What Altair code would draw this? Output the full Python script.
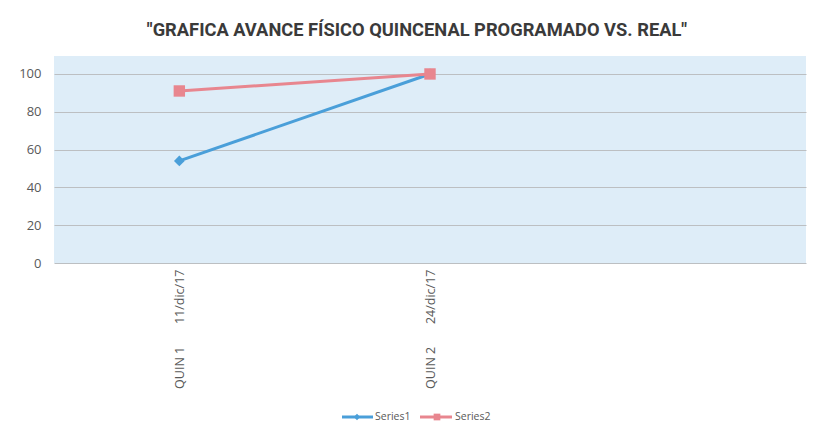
import altair as alt
import pandas as pd

# ---- data ----
categories = ["QUIN 1", "QUIN 2"]
dates = ["11/dic/17", "24/dic/17"]
series_names = ["Series1", "Series2"]
series1 = [54, 100]
series2 = [91, 100]
y_ticks = [0, 20, 40, 60, 80, 100]

NBSP = "\u00a0"
gap = NBSP * 7
labels = [f"{c}{gap}{d}" for c, d in zip(categories, dates)]
x_domain = labels + [NBSP]  # third, empty slot on the category axis

rows = []
for name, vals in zip(series_names, [series1, series2]):
    for lab, v in zip(labels, vals):
        rows.append({"cat": lab, "series": name, "value": v})
df = pd.DataFrame(rows)

colors = ["#4a9fd9", "#e8868f"]
W, H = 752, 207

x_enc = alt.X(
    "cat:N",
    sort=None,
    scale=alt.Scale(type="point", domain=x_domain, padding=0.5),
    axis=alt.Axis(
        title=None, labelAngle=270, labelAlign="right", labelBaseline="middle",
        labelPadding=6, ticks=False, domain=False, grid=False,
        labelFont="Open Sans", labelFontSize=12.5, labelColor="#595959",
    ),
)
y_enc = alt.Y(
    "value:Q",
    scale=alt.Scale(domain=[0, 109.5], nice=False, zero=True),
    axis=alt.Axis(
        title=None, values=y_ticks, ticks=False, domain=False, grid=True,
        gridColor="#bcbfc2", gridWidth=1, labelPadding=13,
        labelFont="Open Sans", labelFontSize=13, labelColor="#595959",
    ),
)
color_enc = alt.Color(
    "series:N", scale=alt.Scale(domain=series_names, range=colors), legend=None
)

base = alt.Chart(df)
lines = base.mark_line(strokeWidth=3).encode(x=x_enc, y=y_enc, color=color_enc)
pts1 = base.transform_filter(alt.datum.series == "Series1").mark_point(
    shape="diamond", size=115, filled=True, opacity=1, color=colors[0]
).encode(x=x_enc, y=y_enc)
pts2 = base.transform_filter(alt.datum.series == "Series2").mark_point(
    shape="square", size=130, filled=True, opacity=1, color=colors[1]
).encode(x=x_enc, y=y_enc)

# ---- custom legend (line + marker + text), below the axis labels ----
def legend_item(name, color, shape, x0, x1, xm, xt, ly, size):
    d = pd.DataFrame({"s": [name]})
    c = alt.Chart(d)
    rule = c.mark_rule(strokeWidth=3, color=color).encode(
        x=alt.value(x0), x2=alt.value(x1), y=alt.value(ly)
    )
    mk = c.mark_point(shape=shape, size=size, filled=True, opacity=1, color=color).encode(
        x=alt.value(xm), y=alt.value(ly)
    )
    tx = c.mark_text(
        align="left", baseline="middle", font="Open Sans", fontSize=10.5, color="#595959"
    ).encode(x=alt.value(xt), y=alt.value(ly), text="s:N")
    return rule + mk + tx

ly = 361
leg1 = legend_item("Series1", colors[0], "diamond", 288, 319, 303, 321, ly, 40)
leg2 = legend_item("Series2", colors[1], "square", 366, 398, 383, 401, ly, 45)

chart = alt.layer(lines, pts1, pts2, leg1, leg2).properties(
    width=W,
    height=H,
    autosize=alt.AutoSizeParams(type="none"),
    padding={"left": 46, "top": 48, "right": 3, "bottom": 167},
    title=alt.TitleParams(
        text='"GRAFICA AVANCE FÍSICO QUINCENAL PROGRAMADO VS. REAL"',
        font="Roboto",
        fontSize=18.3,
        fontWeight="bold",
        color="#3a3a3a",
        anchor="middle",
        dx=-13,
        offset=16,
    ),
).configure(background="white").configure_view(fill="#deedf8", stroke=None)

chart.save("out.html", embed_options={"renderer": "svg", "actions": False})
